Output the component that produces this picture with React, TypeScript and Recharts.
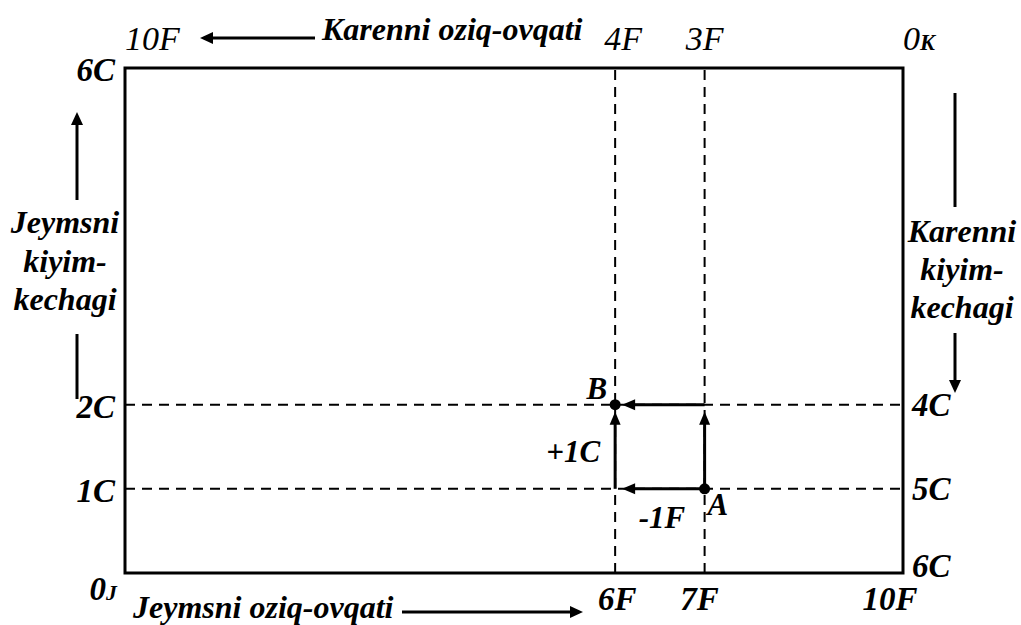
import React from "react";
import { ScatterChart, Scatter, XAxis, YAxis, ReferenceLine, ReferenceArea } from "recharts";

// Jeyms's food runs along the bottom; Karen's food (10 minus it) is read along the top
const jamesFoodTicks = [0, 6, 7, 10];
const jamesFoodLabels = ["0J", "6F", "7F", "10F"];
const karenFoodLabels = ["10F", "4F", "3F", "0K"];

// Jeyms's clothing runs up the left; Karen's clothing (6 minus it) is read down the right
const jamesClothingTicks = [1, 2, 6];
const jamesClothingLabels = ["1C", "2C", "6C"];
const karenClothingTicks = [0, 1, 2];
const karenClothingLabels = ["6C", "5C", "4C"];

const allocations = [
  { x: 7, y: 1, name: "A" },
  { x: 6, y: 2, name: "B" },
];

// two routes from A to B
const tradeLeftUp = [
  { x: 7, y: 1 },
  { x: 6, y: 1 },
  { x: 6, y: 2 },
];
const tradeUpLeft = [
  { x: 7, y: 1 },
  { x: 7, y: 2 },
  { x: 6, y: 2 },
];

const changes = [
  { x: 6, y: 1.5, text: "+1C" },
  { x: 6.5, y: 1, text: "-1F" },
];

const serif = "'Liberation Serif', 'Times New Roman', serif";

// the source drawing is not to scale on the food axis (6 and 7 sit further right),
// so the x axis gets a piecewise linear scale
function warpedLinear(knotsIn: number[], knotsOut: number[]): any {
  let dom = [0, 1];
  let rng = [0, 1];
  const warp = (v: number) => {
    let i = 0;
    while (i < knotsIn.length - 2 && v > knotsIn[i + 1]) i++;
    const t = (v - knotsIn[i]) / (knotsIn[i + 1] - knotsIn[i]);
    return knotsOut[i] + t * (knotsOut[i + 1] - knotsOut[i]);
  };
  const scale: any = (v: number) => {
    const w0 = warp(dom[0]);
    const w1 = warp(dom[dom.length - 1]);
    return rng[0] + ((warp(Number(v)) - w0) / (w1 - w0)) * (rng[rng.length - 1] - rng[0]);
  };
  scale.domain = (d?: any) => {
    if (d === undefined) return dom.slice();
    dom = Array.from(d, Number);
    return scale;
  };
  scale.range = (r?: any) => {
    if (r === undefined) return rng.slice();
    rng = Array.from(r, Number);
    return scale;
  };
  scale.copy = () => warpedLinear(knotsIn, knotsOut).domain(dom).range(rng);
  scale.ticks = () => knotsIn.slice();
  return scale;
}

const foodScale = warpedLinear([0, 6, 7, 10], [0, 6.3, 7.45, 10]);

function Arrow({ x1, y1, x2, y2, width = 3, head = 13, half = 6 }: any) {
  const len = Math.hypot(x2 - x1, y2 - y1);
  const ux = (x2 - x1) / len;
  const uy = (y2 - y1) / len;
  const bx = x2 - ux * head;
  const by = y2 - uy * head;
  const pts = `${x2},${y2} ${bx - uy * half},${by + ux * half} ${bx + uy * half},${by - ux * half}`;
  return (
    <g>
      <line x1={x1} y1={y1} x2={bx + ux} y2={by + uy} stroke="#000" strokeWidth={width} />
      <polygon points={pts} fill="#000" />
    </g>
  );
}

function TickText({ x, y, label, size = 33, bold = true, anchor = "middle" }: any) {
  const m = String(label).match(/^(\d+)([JK])$/);
  return (
    <text
      x={x}
      y={y}
      textAnchor={anchor}
      fontFamily={serif}
      fontStyle="italic"
      fontWeight={bold ? 700 : 400}
      fontSize={size}
      fill="#000"
    >
      {m ? (
        <>
          {m[1]}
          <tspan fontSize={size * 0.66} fontWeight={700}>
            {m[2]}
          </tspan>
        </>
      ) : (
        label
      )}
    </text>
  );
}

function BottomTick(p: any) {
  const i = jamesFoodTicks.indexOf(p.payload.value);
  const label = jamesFoodLabels[i];
  if (i === 0) return <TickText x={p.x - 8} y={p.y + 27} label={label} anchor="end" />;
  const shift = [0, 2, -5, -13][i];
  return <TickText x={p.x + shift} y={p.y + 37} label={label} />;
}

function TopTick(p: any) {
  const i = jamesFoodTicks.indexOf(p.payload.value);
  const label = karenFoodLabels[i];
  if (i === 0 || i === 3) return <TickText x={p.x} y={p.y - 18} label={label} anchor="start" size={34} bold={false} />;
  const shift = [0, 8, 0, 0][i];
  return <TickText x={p.x + shift} y={p.y - 18} label={label} size={34} bold={false} />;
}

function LeftTick(p: any) {
  const i = jamesClothingTicks.indexOf(p.payload.value);
  return <TickText x={p.x - 10} y={p.y + 13} label={jamesClothingLabels[i]} anchor="end" />;
}

function RightTick(p: any) {
  const i = karenClothingTicks.indexOf(p.payload.value);
  return <TickText x={p.x + 9} y={p.y + (i === 0 ? 4 : 11)} label={karenClothingLabels[i]} anchor="start" />;
}

const titleProps = {
  fontFamily: serif,
  fontStyle: "italic",
  fontWeight: 700,
  fontSize: 32,
  fill: "#000",
} as const;

function TopTitle({ viewBox }: any) {
  const { x, y } = viewBox;
  return (
    <g>
      <Arrow x1={x + 190} y1={y} x2={x + 75} y2={y} />
      <text x={x + 197} y={y + 2} {...titleProps}>
        Karenni oziq-ovqati
      </text>
    </g>
  );
}

function BottomTitle({ viewBox }: any) {
  const { x, y } = viewBox;
  return (
    <g>
      <text x={x + 8} y={y + 45} {...titleProps}>
        Jeymsni oziq-ovqati
      </text>
      <Arrow x1={x + 277} y1={y + 39} x2={x + 458} y2={y + 39} />
    </g>
  );
}

function LeftTitle({ viewBox }: any) {
  const { x, y } = viewBox;
  const cx = x - 20;
  return (
    <g>
      <Arrow x1={x - 8} y1={y + 132} x2={x - 8} y2={y + 44} />
      <text x={cx} y={y + 165} textAnchor="middle" {...titleProps}>Jeymsni</text>
      <text x={cx} y={y + 204} textAnchor="middle" {...titleProps}>kiyim-</text>
      <text x={cx} y={y + 242} textAnchor="middle" {...titleProps}>kechagi</text>
      <line x1={x - 8} y1={y + 266} x2={x - 8} y2={y + 331} stroke="#000" strokeWidth={3} />
    </g>
  );
}

function RightTitle({ viewBox }: any) {
  const { x, y } = viewBox;
  const cx = x + 59;
  return (
    <g>
      <line x1={x + 52} y1={y + 25} x2={x + 52} y2={y + 139} stroke="#000" strokeWidth={3} />
      <text x={cx} y={y + 174} textAnchor="middle" {...titleProps}>Karenni</text>
      <text x={cx} y={y + 212} textAnchor="middle" {...titleProps}>kiyim-</text>
      <text x={cx} y={y + 250} textAnchor="middle" {...titleProps}>kechagi</text>
      <Arrow x1={x + 52} y1={y + 265} x2={x + 52} y2={y + 325} />
    </g>
  );
}

const arrowGap = 7;
const tradeArrow = (p: any) => {
  const len = Math.hypot(p.x2 - p.x1, p.y2 - p.y1);
  const x2 = p.x2 - ((p.x2 - p.x1) / len) * arrowGap;
  const y2 = p.y2 - ((p.y2 - p.y1) / len) * arrowGap;
  return <Arrow x1={p.x1} y1={p.y1} x2={x2} y2={y2} head={13} half={5.5} />;
};

const pointLabel: Record<string, any> = {
  A: { dx: 3, dy: 26, anchor: "start" },
  B: { dx: -8, dy: -6, anchor: "end" },
};

const AllocationDot = (p: any) => {
  const o = pointLabel[p.payload.name];
  return (
    <g>
      <circle cx={p.cx} cy={p.cy} r={5.5} fill="#000" />
      <text x={p.cx + o.dx} y={p.cy + o.dy} textAnchor={o.anchor} {...titleProps} fontSize={31}>
        {p.payload.name}
      </text>
    </g>
  );
};

const changeLabel: Record<string, any> = {
  "+1C": { dx: -15, dy: 15, anchor: "end" },
  "-1F": { dx: 2, dy: 39, anchor: "middle" },
};

const ChangeText = (p: any) => {
  const o = changeLabel[p.payload.text];
  return (
    <text x={p.cx + o.dx} y={p.cy + o.dy} textAnchor={o.anchor} {...titleProps} fontSize={31}>
      {p.payload.text}
    </text>
  );
};

const segments = (path: { x: number; y: number }[]) =>
  path.slice(1).map((pt, i) => [path[i], pt]);

export default function App() {
  return (
    <div style={{ position: "absolute", left: 0, top: 0, background: "#fff" }}>
      <ScatterChart width={1021} height={625} margin={{ top: 38, right: 78, bottom: 22, left: 85 }}>
        <XAxis
          xAxisId={0}
          dataKey="x"
          type="number"
          scale={foodScale}
          domain={[0, 10]}
          allowDataOverflow
          ticks={jamesFoodTicks}
          height={30}
          axisLine={false}
          tickLine={false}
          tickSize={0}
          tickMargin={0}
          tick={BottomTick}
          interval={0}
          label={{ content: BottomTitle }}
        />
        <XAxis
          xAxisId="top"
          orientation="top"
          dataKey="x"
          type="number"
          scale={foodScale}
          domain={[0, 10]}
          allowDataOverflow
          ticks={jamesFoodTicks}
          height={30}
          axisLine={false}
          tickLine={false}
          tickSize={0}
          tickMargin={0}
          tick={TopTick}
          interval={0}
          label={{ content: TopTitle }}
        />
        <YAxis
          yAxisId={0}
          dataKey="y"
          type="number"
          domain={[0, 6]}
          allowDataOverflow
          ticks={jamesClothingTicks}
          width={40}
          axisLine={false}
          tickLine={false}
          tickSize={0}
          tickMargin={0}
          tick={LeftTick}
          interval={0}
          label={{ content: LeftTitle }}
        />
        <YAxis
          yAxisId="right"
          orientation="right"
          dataKey="y"
          type="number"
          domain={[0, 6]}
          allowDataOverflow
          ticks={karenClothingTicks}
          width={40}
          axisLine={false}
          tickLine={false}
          tickSize={0}
          tickMargin={0}
          tick={RightTick}
          interval={0}
          label={{ content: RightTitle }}
        />

        {[6, 7].map((v) => (
          <ReferenceLine key={"x" + v} x={v} stroke="#000" strokeWidth={2} strokeDasharray="10 7" />
        ))}
        {[1, 2].map((v) => (
          <ReferenceLine key={"y" + v} y={v} stroke="#000" strokeWidth={2} strokeDasharray="10 7" />
        ))}

        <ReferenceArea x1={0} x2={10} y1={0} y2={6} fill="none" stroke="#000" strokeWidth={3} />

        {[...segments(tradeLeftUp), ...segments(tradeUpLeft)].map(([a, b], i) => (
          <ReferenceLine key={"t" + i} segment={[a, b]} shape={tradeArrow} />
        ))}

        <Scatter data={changes} shape={ChangeText} isAnimationActive={false} />
        <Scatter data={allocations} shape={AllocationDot} isAnimationActive={false} />
      </ScatterChart>
    </div>
  );
}
